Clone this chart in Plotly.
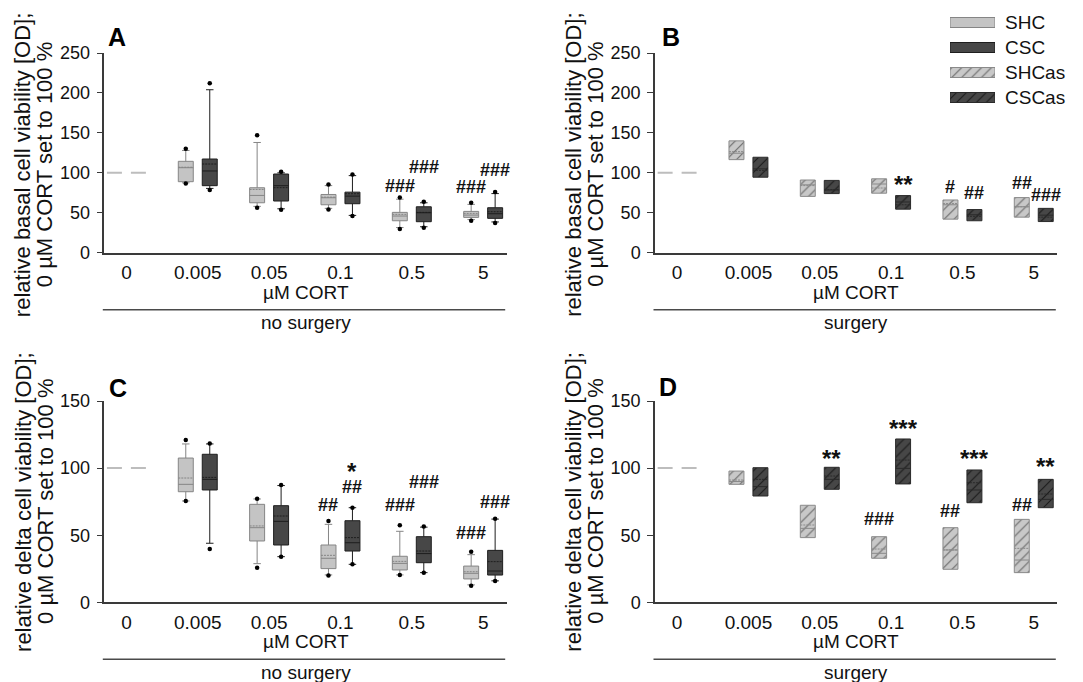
import plotly.graph_objects as go

W, H = 1083, 682

# ------------------------------------------------------------------ data
conc_labels = ["0", "0.005", "0.05", "0.1", "0.5", "5"]
reference_value = 100  # 0 µM CORT set to 100 %

# Panel A – relative basal cell viability, no surgery (SHC / CSC)
A_SHC_dot_hi = [130, 147, 85.5, 69.0, 62.5]
A_SHC_whisk_hi = [128, 138, 84.0, 67.0, 60.5]
A_SHC_q3 = [114.4, 81.3, 72.9, 50.5, 51.7]
A_SHC_median = [106.4, 71.7, 68.8, 45.9, 47.1]
A_SHC_mean = [107.0, 79.2, 69.5, 48.0, 49.2]
A_SHC_q1 = [88.9, 62.5, 60.0, 40.0, 44.2]
A_SHC_whisk_lo = [87.5, 58.0, 55.5, 31.5, 41.5]
A_SHC_dot_lo = [86.5, 56.3, 54.2, 29.6, 40.0]

A_CSC_dot_hi = [212, 101.4, 98.0, 63.8, 75.9]
A_CSC_whisk_hi = [204, 100.0, 96.5, 62.5, 74.0]
A_CSC_q3 = [117.3, 98.5, 75.8, 57.5, 56.3]
A_CSC_median = [102.3, 83.9, 70.8, 50.0, 48.8]
A_CSC_mean = [111.0, 81.4, 73.8, 50.5, 51.3]
A_CSC_q1 = [83.9, 64.7, 61.3, 38.8, 43.0]
A_CSC_whisk_lo = [80.5, 55.0, 46.7, 32.5, 38.5]
A_CSC_dot_lo = [78.5, 53.8, 45.8, 31.3, 37.1]

# Panel B – relative basal cell viability, surgery (SHCas / CSCas)
B_SHCas_q3 = [140.0, 91.0, 92.5, 66.0, 69.0]
B_SHCas_median = [124.5, 85.0, 86.0, 60.0, 57.5]
B_SHCas_mean = [126.5, 84.0, 81.0, 61.5, 57.5]
B_SHCas_q1 = [116.5, 70.5, 74.5, 42.0, 44.5]
B_CSCas_q3 = [119.5, 90.5, 71.5, 54.0, 55.5]
B_CSCas_median = [105.0, 78.5, 63.5, 47.5, 47.0]
B_CSCas_mean = [103.0, 79.0, 60.0, 45.5, 44.5]
B_CSCas_q1 = [94.5, 74.0, 54.5, 40.0, 39.0]

# Panel C – relative delta cell viability, no surgery (SHC / CSC)
C_SHC_dot_hi = [121.0, 77.2, 60.6, 57.4, 37.7]
C_SHC_whisk_hi = [118.0, 77.0, 58.1, 52.9, 35.5]
C_SHC_q3 = [107.5, 73.0, 42.7, 34.3, 27.0]
C_SHC_median = [87.9, 55.6, 32.8, 29.0, 21.6]
C_SHC_mean = [92.6, 56.9, 35.0, 30.5, 22.8]
C_SHC_q1 = [82.4, 45.7, 25.1, 24.1, 17.4]
C_SHC_whisk_lo = [75.5, 28.8, 20.4, 20.4, 13.0]
C_SHC_dot_lo = [75.5, 25.8, 19.9, 20.4, 12.4]

C_CSC_dot_hi = [118.4, 87.4, 70.5, 56.4, 62.3]
C_CSC_whisk_hi = [118.0, 87.0, 70.5, 56.0, 62.0]
C_CSC_q3 = [110.3, 72.0, 60.8, 48.9, 38.7]
C_CSC_median = [91.6, 60.3, 44.4, 36.3, 23.3]
C_CSC_mean = [93.1, 64.3, 48.2, 38.2, 30.3]
C_CSC_q1 = [83.7, 42.7, 38.2, 29.5, 20.3]
C_CSC_whisk_lo = [44.0, 34.0, 28.3, 22.1, 16.0]
C_CSC_dot_lo = [39.7, 34.0, 28.3, 22.1, 15.9]

# Panel D – relative delta cell viability, surgery (SHCas / CSCas)
D_SHCas_q3 = [97.8, 72.3, 48.9, 55.6, 61.8]
D_SHCas_median = [90.0, 55.1, 36.5, 39.0, 31.5]
D_SHCas_mean = [91.1, 57.6, 39.7, 39.0, 40.2]
D_SHCas_q1 = [87.9, 48.2, 32.8, 24.6, 22.1]
D_CSCas_q3 = [100.3, 100.6, 121.7, 98.6, 91.6]
D_CSCas_median = [86.2, 91.6, 99.8, 83.7, 76.7]
D_CSCas_mean = [91.6, 94.1, 106.0, 89.1, 80.7]
D_CSCas_q1 = [79.2, 84.2, 88.2, 74.2, 70.5]

# significance marks: (text, concentration index, group 0=SHC/SHCas 1=CSC/CSCas, y value)
A_marks = [("###", 4, 0, 83.0), ("###", 4, 1, 107.7), ("###", 5, 0, 82.0), ("###", 5, 1, 104.0)]
B_marks = [("**", 3, 1, 92.3), ("#", 4, 0, 82.6), ("##", 4, 1, 74.3), ("##", 5, 0, 86.8), ("###", 5, 1, 72.2)]
C_marks = [("##", 3, 0, 72.7), ("##", 3, 1, 85.8), ("*", 3, 1, 101.2), ("###", 4, 0, 72.5),
           ("###", 4, 1, 89.3), ("###", 5, 0, 51.4), ("###", 5, 1, 75.0)]
D_marks = [("**", 2, 1, 111.4), ("###", 3, 0, 61.8), ("***", 3, 1, 133.8), ("##", 4, 0, 68.2),
           ("***", 4, 1, 111.4), ("##", 5, 0, 72.5), ("**", 5, 1, 105.2)]

legend_labels = ["SHC", "CSC", "SHCas", "CSCas"]

# ------------------------------------------------------------------ style
FONT = "Liberation Sans, Arial, sans-serif"
AXC = "#3a3a3a"
OFF = 0.168      # half distance between paired boxes (category units)
BW = 0.21        # box width (category units)
SHC_FILL, SHC_LINE = "#c4c4c4", "#858585"
CSC_FILL, CSC_LINE = "#474747", "#1e1e1e"
SHCAS_BG, SHCAS_FG, SHCAS_LINE = "#c8c8c8", "#6a6a6a", "#8a8a8a"
CSCAS_BG, CSCAS_FG, CSCAS_LINE = "#474747", "#1a1a1a", "#2a2a2a"
BASE_COLOR = "#bdbdbd"

idx = list(range(1, len(conc_labels)))
pos = [[i - OFF for i in idx], [i + OFF for i in idx]]

fig = go.Figure()

panels = {
    "A": dict(xa="x", ya="y", x0=104.3, x1=506.7, y0=53.0, y1=252.7, ymax=250),
    "B": dict(xa="x2", ya="y2", x0=655.0, x1=1057.3, y0=53.0, y1=252.7, ymax=250),
    "C": dict(xa="x3", ya="y3", x0=104.3, x1=506.7, y0=401.0, y1=602.3, ymax=150),
    "D": dict(xa="x4", ya="y4", x0=655.0, x1=1057.3, y0=401.0, y1=602.3, ymax=150),
}


def add_baseline(p):
    for g in (0, 1):
        fig.add_trace(go.Box(
            x=[0 - OFF if g == 0 else 0 + OFF], q1=[reference_value], median=[reference_value],
            q3=[reference_value], lowerfence=[reference_value], upperfence=[reference_value],
            orientation="v", width=BW, fillcolor=BASE_COLOR, line=dict(color=BASE_COLOR, width=2),
            whiskerwidth=0, boxpoints=False, xaxis=p["xa"], yaxis=p["ya"], showlegend=False,
            hoverinfo="skip"))


def add_whisker_boxes(p, g, q1, med, mean, q3, lo, hi, dlo, dhi, fill, line):
    fig.add_trace(go.Box(
        x=pos[g], q1=q1, median=med, q3=q3, mean=mean, lowerfence=lo, upperfence=hi,
        boxmean=True, orientation="v", width=BW, fillcolor=fill, line=dict(color=line, width=1),
        whiskerwidth=0.5, boxpoints=False, xaxis=p["xa"], yaxis=p["ya"], showlegend=False))
    fig.add_trace(go.Scatter(
        x=pos[g] + pos[g], y=dhi + dlo, mode="markers",
        marker=dict(color="black", size=4.5), xaxis=p["xa"], yaxis=p["ya"],
        showlegend=False, hoverinfo="skip"))


def add_hatched_boxes(p, g, q1, med, mean, q3, bg, fg, line):
    fig.add_trace(go.Bar(
        x=pos[g], y=[b - a for a, b in zip(q1, q3)], base=q1, width=BW,
        marker=dict(color=bg, line=dict(width=0),
                    pattern=dict(shape="/", fillmode="replace", bgcolor=bg, fgcolor=fg,
                                 size=7, solidity=0.16)),
        xaxis=p["xa"], yaxis=p["ya"], showlegend=False, hoverinfo="skip"))
    fig.add_trace(go.Box(
        x=pos[g], q1=q1, median=med, q3=q3, mean=mean, lowerfence=q1, upperfence=q3,
        boxmean=True, orientation="v", width=BW, fillcolor="rgba(0,0,0,0)",
        line=dict(color=line, width=1), whiskerwidth=0, boxpoints=False,
        xaxis=p["xa"], yaxis=p["ya"], showlegend=False))


# Panel A
add_baseline(panels["A"])
add_whisker_boxes(panels["A"], 0, A_SHC_q1, A_SHC_median, A_SHC_mean, A_SHC_q3, A_SHC_whisk_lo,
                  A_SHC_whisk_hi, A_SHC_dot_lo, A_SHC_dot_hi, SHC_FILL, SHC_LINE)
add_whisker_boxes(panels["A"], 1, A_CSC_q1, A_CSC_median, A_CSC_mean, A_CSC_q3, A_CSC_whisk_lo,
                  A_CSC_whisk_hi, A_CSC_dot_lo, A_CSC_dot_hi, CSC_FILL, CSC_LINE)
# Panel B
add_baseline(panels["B"])
add_hatched_boxes(panels["B"], 0, B_SHCas_q1, B_SHCas_median, B_SHCas_mean, B_SHCas_q3,
                  SHCAS_BG, SHCAS_FG, SHCAS_LINE)
add_hatched_boxes(panels["B"], 1, B_CSCas_q1, B_CSCas_median, B_CSCas_mean, B_CSCas_q3,
                  CSCAS_BG, CSCAS_FG, CSCAS_LINE)
# Panel C
add_baseline(panels["C"])
add_whisker_boxes(panels["C"], 0, C_SHC_q1, C_SHC_median, C_SHC_mean, C_SHC_q3, C_SHC_whisk_lo,
                  C_SHC_whisk_hi, C_SHC_dot_lo, C_SHC_dot_hi, SHC_FILL, SHC_LINE)
add_whisker_boxes(panels["C"], 1, C_CSC_q1, C_CSC_median, C_CSC_mean, C_CSC_q3, C_CSC_whisk_lo,
                  C_CSC_whisk_hi, C_CSC_dot_lo, C_CSC_dot_hi, CSC_FILL, CSC_LINE)
# Panel D
add_baseline(panels["D"])
add_hatched_boxes(panels["D"], 0, D_SHCas_q1, D_SHCas_median, D_SHCas_mean, D_SHCas_q3,
                  SHCAS_BG, SHCAS_FG, SHCAS_LINE)
add_hatched_boxes(panels["D"], 1, D_CSCas_q1, D_CSCas_median, D_CSCas_mean, D_CSCas_q3,
                  CSCAS_BG, CSCAS_FG, CSCAS_LINE)

# Legend drawn as a tiny subplot of swatches
leg_styles = [
    dict(color=SHC_FILL, line=dict(color=SHC_LINE, width=1)),
    dict(color=CSC_FILL, line=dict(color=CSC_LINE, width=1)),
    dict(color=SHCAS_BG, line=dict(color=SHCAS_LINE, width=1),
         pattern=dict(shape="/", fillmode="replace", bgcolor=SHCAS_BG, fgcolor=SHCAS_FG, size=7, solidity=0.16)),
    dict(color=CSCAS_BG, line=dict(color=CSCAS_LINE, width=1),
         pattern=dict(shape="/", fillmode="replace", bgcolor=CSCAS_BG, fgcolor=CSCAS_FG, size=7, solidity=0.16)),
]
for lab, st in zip(legend_labels, leg_styles):
    fig.add_trace(go.Bar(x=[1], y=[lab], orientation="h", width=0.4, marker=st,
                         xaxis="x5", yaxis="y5", showlegend=False, hoverinfo="skip"))

# ------------------------------------------------------------------ layout


def xax(p, anchor):
    return dict(domain=[p["x0"] / W, p["x1"] / W], range=[-0.31, 5.33], anchor=anchor,
                tickmode="array", tickvals=list(range(len(conc_labels))), ticktext=conc_labels,
                showline=True, linecolor=AXC, linewidth=1.5, ticks="", showgrid=False,
                zeroline=False, tickfont=dict(size=19, color="#111"), ticklabelstandoff=2,
                automargin=False)


def yax(p, anchor):
    return dict(domain=[1 - p["y1"] / H, 1 - p["y0"] / H], range=[0, p["ymax"]], anchor=anchor,
                tickmode="linear", tick0=0, dtick=50, ticks="outside", ticklen=6, tickcolor=AXC,
                tickwidth=1.2, showline=True, linecolor=AXC, linewidth=1.5, showgrid=False,
                zeroline=False, tickfont=dict(size=18, color="#111"), ticklabelstandoff=3,
                automargin=False)


layout = dict(
    width=W, height=H, margin=dict(l=0, r=0, t=0, b=0, autoexpand=False),
    paper_bgcolor="white", plot_bgcolor="white",
    font=dict(family=FONT, color="#111"),
    barmode="overlay", boxmode="overlay", showlegend=False,
    xaxis=xax(panels["A"], "y"), yaxis=yax(panels["A"], "x"),
    xaxis2=xax(panels["B"], "y2"), yaxis2=yax(panels["B"], "x2"),
    xaxis3=xax(panels["C"], "y3"), yaxis3=yax(panels["C"], "x3"),
    xaxis4=xax(panels["D"], "y4"), yaxis4=yax(panels["D"], "x4"),
    xaxis5=dict(domain=[950 / W, 995 / W], range=[0, 1], anchor="y5", visible=False,
                automargin=False),
    yaxis5=dict(domain=[1 - 110 / H, 1 - 10 / H], anchor="x5", type="category",
                categoryorder="array", categoryarray=legend_labels[::-1], range=[-0.5, 3.5],
                side="right", ticks="", showline=False, showgrid=False, zeroline=False,
                tickfont=dict(size=19, color="#111"), ticklabelstandoff=9, automargin=False),
)
fig.update_layout(**layout)

annotations = []
shapes = []


def mark_annotations(marks, p):
    for text, ci, g, yv in marks:
        star = text.startswith("*")
        ann = dict(
            text="<b>%s</b>" % text,
            x=ci + (OFF if g == 1 else -OFF), y=yv, xref=p["xa"], yref=p["ya"],
            showarrow=False, xanchor="center", yanchor="middle",
            font=dict(size=24 if star else 18, color="#111", family=FONT))
        if star:
            # asterisks sit high in their line box: use a compact box around the glyphs
            ann.update(height=16, valign="top", borderpad=0)
        annotations.append(ann)


mark_annotations(A_marks, panels["A"])
mark_annotations(B_marks, panels["B"])
mark_annotations(C_marks, panels["C"])
mark_annotations(D_marks, panels["D"])

panel_letters = ["A", "B", "C", "D"]
letter_px = {"A": (117, 37.5), "B": (671, 37.5), "C": (117.5, 387.5), "D": (667.5, 387)}
titles = {"A": "basal", "B": "basal", "C": "delta", "D": "delta"}
sub_titles = {"A": "no surgery", "B": "surgery", "C": "no surgery", "D": "surgery"}

for key in panel_letters:
    p = panels[key]
    lx, ly = letter_px[key]
    annotations.append(dict(text="<b>%s</b>" % key, x=lx / W, y=1 - ly / H, xref="paper",
                            yref="paper", showarrow=False, xanchor="center", yanchor="middle",
                            font=dict(size=25, color="#000", family=FONT)))
    # y-axis title (two lines)
    tcy = (p["y0"] + p["y1"]) / 2 + (12 if p["ymax"] == 250 else 0)
    for txt, dx in (("relative %s cell viability [OD];" % titles[key], -81),
                    ("0 µM CORT set to 100 %", -59)):
        annotations.append(dict(text=txt, x=(p["x0"] + dx) / W, y=1 - tcy / H, xref="paper",
                                yref="paper", showarrow=False, textangle=-90, xanchor="center",
                                yanchor="middle", font=dict(size=22, color="#111", family=FONT)))
    cx = (p["x0"] + p["x1"]) / 2
    annotations.append(dict(text="µM CORT", x=cx / W, y=1 - (p["y1"] + 39.5) / H, xref="paper",
                            yref="paper", showarrow=False, xanchor="center", yanchor="middle",
                            font=dict(size=19, color="#111", family=FONT)))
    annotations.append(dict(text=sub_titles[key], x=cx / W, y=1 - (p["y1"] + 70) / H,
                            xref="paper", yref="paper", showarrow=False, xanchor="center",
                            yanchor="middle", font=dict(size=19, color="#111", family=FONT)))
    shapes.append(dict(type="line", xref="paper", yref="paper", x0=(p["x0"] - 1.5) / W,
                       x1=(p["x1"] - 1.5) / W, y0=1 - (p["y1"] + 57) / H, y1=1 - (p["y1"] + 57) / H,
                       line=dict(color="#4a4a4a", width=1.5)))

fig.update_layout(annotations=annotations, shapes=shapes)

fig.write_html("out.html", config={"displayModeBar": False},
               post_script="document.body.style.margin='0px';document.body.style.overflow='hidden';")
